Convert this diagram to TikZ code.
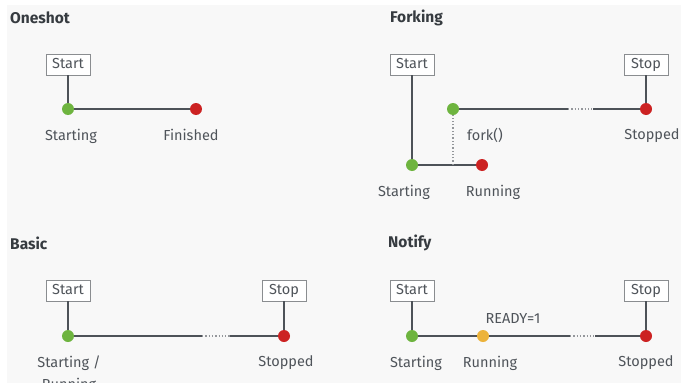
\documentclass[tikz,border=0pt]{standalone}
\usepackage{fontspec}
\setmainfont{Fira Sans}
\usetikzlibrary{positioning}
\usetikzlibrary{calc}

\definecolor{panelgray}{HTML}{F8F8F8}
\definecolor{linegray}{HTML}{4D5258}
\definecolor{textgray}{HTML}{4F545A}
\definecolor{boxgray}{HTML}{8A8D90}
\definecolor{titlegray}{HTML}{363B40}
\definecolor{startgreen}{HTML}{6EB43F}
\definecolor{stopred}{HTML}{CC2222}
\definecolor{runyellow}{HTML}{ECB33B}

\tikzset{
  heading/.style={font=\fontsize{15.5}{17}\selectfont\bfseries, text=titlegray, anchor=west, inner sep=0pt},
  cmdbox/.style={draw=boxgray, fill=white, line width=0.9pt, font=\fontsize{14.5}{16}\selectfont, text=textgray, inner sep=2pt, text height=10.5pt, text depth=3pt, minimum width=44pt, minimum height=21pt},
  dot/.style={circle, inner sep=0pt, minimum size=12pt},
  greendot/.style={dot, fill=startgreen},
  reddot/.style={dot, fill=stopred},
  yellowdot/.style={dot, fill=runyellow},
  statelbl/.style={font=\fontsize{14.5}{22}\selectfont, text=textgray, align=center},
  wire/.style={draw=linegray, line width=1.5pt},
  dotgap/.style={draw=linegray!60, line width=1.3pt, dotted},
}

\begin{document}
\begin{tikzpicture}[x=1pt,y=-1pt]
 \useasboundingbox (0,0) rectangle (681,383);
 \fill[white] (0,0) rectangle (681,383);
 \fill[panelgray] (7,5) rectangle (681,383);

 % Oneshot
 \node (oshead) [heading] at (10,18) {Oneshot};
 \node (osstart) [cmdbox] at (68,64.5) {Start};
 \node (osbegin) [greendot] at (68,109) {};
 \node (osend) [reddot] at (196,109) {};
 \node (osbeginlbl) [statelbl, below=10pt of osbegin, xshift=3pt] {Starting};
 \node (osendlbl) [statelbl, below=10pt of osend, xshift=-5pt] {Finished};
 \draw [wire] (osstart) -- (osbegin);
 \draw [wire] (osbegin) -- (osend);

 % Forking
 \node (fkhead) [heading] at (390,18) {Forking};
 \node (fkstart) [cmdbox] at (412,64.5) {Start};
 \node (fkstop) [cmdbox] at (646,64.5) {Stop};
 \node (fkbegin) [greendot] at (412,165) {};
 \node (fkparent) [reddot] at (482,165) {};
 \node (fkchild) [greendot] at (453,109) {};
 \node (fkend) [reddot] at (646,109) {};
 \coordinate (fkfork) at (453,165);
 \coordinate (fkgapa) at (568,109);
 \coordinate (fkgapb) at (593,109);
 \node (fkforklbl) [statelbl] at (485,135) {fork()};
 \node (fkbeginlbl) [statelbl, below=10pt of fkbegin, xshift=-8pt] {Starting};
 \node (fkparentlbl) [statelbl, below=10pt of fkparent, xshift=11pt] {Running};
 \node (fkendlbl) [statelbl, below=10pt of fkend, xshift=6pt] {Stopped};
 \draw [wire] (fkstart) -- (fkbegin);
 \draw [wire] (fkbegin) -- (fkparent);
 \draw [dotgap] (fkfork) -- (fkchild);
 \draw [wire] (fkchild) -- (fkgapa);
 \draw [dotgap] (fkgapa) -- (fkgapb);
 \draw [wire] (fkgapb) -- (fkend);
 \draw [wire] (fkstop) -- (fkend);

 % Basic
 \node (bshead) [heading] at (10,243) {Basic};
 \node (bsstart) [cmdbox] at (68,290.5) {Start};
 \node (bsstop) [cmdbox] at (284,290.5) {Stop};
 \node (bsbegin) [greendot] at (68,336) {};
 \node (bsend) [reddot] at (284,336) {};
 \coordinate (bsgapa) at (202,336);
 \coordinate (bsgapb) at (230,336);
 \node (bsbeginlbl) [statelbl, below=10pt of bsbegin, xshift=1pt, anchor=north] {Starting /\\Running};
 \node (bsendlbl) [statelbl, below=10pt of bsend, xshift=2pt] {Stopped};
 \draw [wire] (bsstart) -- (bsbegin);
 \draw [wire] (bsbegin) -- (bsgapa);
 \draw [dotgap] (bsgapa) -- (bsgapb);
 \draw [wire] (bsgapb) -- (bsend);
 \draw [wire] (bsstop) -- (bsend);

 % Notify
 \node (nthead) [heading] at (388,243) {Notify};
 \node (ntstart) [cmdbox] at (412,290.5) {Start};
 \node (ntstop) [cmdbox] at (646,290.5) {Stop};
 \node (ntbegin) [greendot] at (412,336) {};
 \node (ntready) [yellowdot] at (483,336) {};
 \node (ntend) [reddot] at (646,336) {};
 \coordinate (ntgapa) at (570,336);
 \coordinate (ntgapb) at (595,336);
 \node (ntreadylbl) [statelbl, above=3pt of ntready, xshift=30pt] {READY=1};
 \node (ntbeginlbl) [statelbl, below=10pt of ntbegin, xshift=4pt] {Starting};
 \node (ntrunlbl) [statelbl, below=10pt of ntready, xshift=7pt] {Running};
 \node (ntendlbl) [statelbl, below=10pt of ntend] {Stopped};
 \draw [wire] (ntstart) -- (ntbegin);
 \draw [wire] (ntbegin) -- (ntready);
 \draw [wire] (ntready) -- (ntgapa);
 \draw [dotgap] (ntgapa) -- (ntgapb);
 \draw [wire] (ntgapb) -- (ntend);
 \draw [wire] (ntstop) -- (ntend);
\end{tikzpicture}
\end{document}
